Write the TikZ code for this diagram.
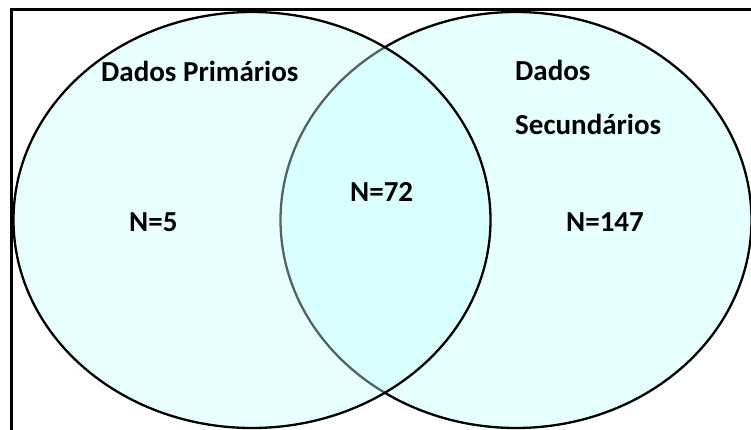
\documentclass[tikz,border=0pt]{standalone}
\usepackage{fontspec}
\setmainfont{Carlito}
\definecolor{fillR}{RGB}{230,255,255}
\definecolor{fillL}{RGB}{200,255,255}
\tikzset{
  lbl/.style={anchor=base west, inner sep=0pt, font=\fontsize{29}{31}\selectfont\bfseries, text=black},
  setline/.style={line width=2.3pt, draw=black}
}
\begin{document}
\begin{tikzpicture}[x=1pt,y=-1pt]
\useasboundingbox (0,0) rectangle (751,430);
\clip (0,0) rectangle (751,430);
\fill[white] (0,0) rectangle (751,430);
% outer frame
\draw[line width=3pt] (11.5,9.5) rectangle (770,450);
% right set
\filldraw[setline, fill=fillR] (516,220) ellipse [x radius=235.5, y radius=208];
% left set (semi-transparent)
\fill[fillL, fill opacity=0.4] (252,220) ellipse [x radius=238.5, y radius=208];
\draw[setline] (252,220) ellipse [x radius=238.5, y radius=208];
% labels
\node[lbl] (prim) at (101,82) {Dados Primários};
\node[lbl] (sec1) at (515,81) {Dados};
\node[lbl] (sec2) at (515,135) {Secundários};
\node[lbl] (n72) at (350,202) {N=72};
\node[lbl] (n5) at (129,231) {N=5};
\node[lbl] (n147) at (566,231) {N=147};
\end{tikzpicture}
\end{document}
